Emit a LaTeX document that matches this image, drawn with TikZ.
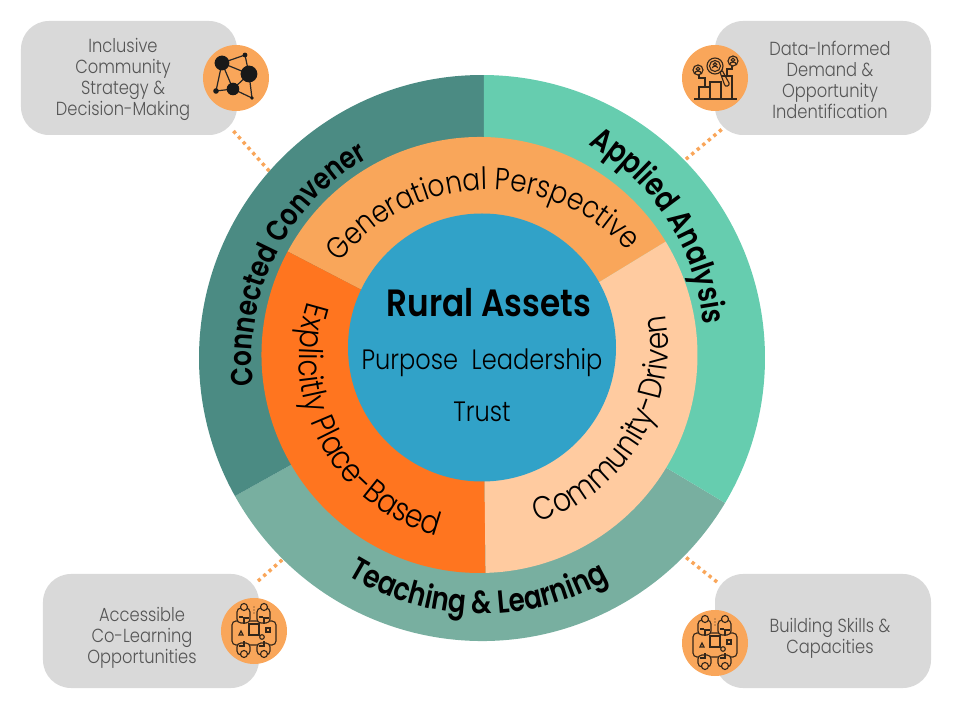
\documentclass[tikz,border=0pt]{standalone}
\usepackage{fontspec}
\setmainfont{Poppins}[UprightFont={* Light},BoldFont={* SemiBold},FakeStretch=0.86]
\newfontfamily\wheelbold{Poppins SemiBold}[FakeStretch=0.82]
\usetikzlibrary{decorations.text,calc}

\definecolor{convenercol}{HTML}{4B8B83}
\definecolor{analysiscol}{HTML}{66CDAF}
\definecolor{teachingcol}{HTML}{78AFA0}
\definecolor{generationcol}{HTML}{F9A65A}
\definecolor{placecol}{HTML}{FF751F}
\definecolor{communitycol}{HTML}{FFCBA0}
\definecolor{assetscol}{HTML}{31A2C8}
\definecolor{boxcol}{HTML}{D9D9D9}
\definecolor{boxtextcol}{HTML}{555555}
\definecolor{iconcol}{HTML}{33261A}

% text that follows a circle: font, centre, radius, from, to, text
\newcommand{\wheellabel}[6]{\path[shift={#2}, decorate, decoration={text along path, text={|#1|#6}, text align=center}] (#4:#3) arc (#4:#5:#3);}
\newcommand{\outerfont}{\wheelbold\fontsize{24}{24}\selectfont}
\newcommand{\convenerfont}{\wheelbold\fontsize{22.8}{22.8}\selectfont}
\newcommand{\middlefont}{\fontsize{23}{23}\selectfont}
\newcommand{\lowerfont}{\fontsize{24.5}{24.5}\selectfont}

\tikzset{
    personglyph/.pic={
        \draw (0,0) circle (5);
        \draw (0,1) circle (1.8);
        \draw (-3.2,-3.6) arc (180:0:3.2 and 2.6);
    },
    networkicon/.pic={
        \coordinate (a) at (-14,15);
        \coordinate (b) at (9,23);
        \coordinate (c) at (13,4);
        \coordinate (d) at (-3,-11);
        \coordinate (e) at (-20,-13);
        \coordinate (f) at (16,-20);
        \draw[line width=0.9pt, black!85] (b) -- (a) -- (c) -- (b) (a) -- (e) -- (d) -- (a) (d) -- (c) -- (f) -- (d);
        \foreach \p/\r in {a/7.4, b/2.4, c/8.4, d/6.3, e/2.8, f/1.8}
            \fill[black!90] (\p) circle (\r);
    },
    charticon/.pic={
        \begin{scope}[iconcol, line width=0.85pt]
        \draw (-21,-21) -- (22,-21);
        \draw (-16,-21) |- (-5,-9) (-5,-21) |- (6,-4) -- (6,-21) (6,2) -| (17,-21);
        \draw (-5,-21) -- (-5,-4);
        \draw (0,12) circle (8);
        \draw (0,12) circle (5.5);
        \draw (0,13.5) circle (1.7);
        \draw (-2.6,10) arc (180:0:2.6 and 1.9);
        \draw (5,6) -- (7.5,7) -- (14,-5) arc (20:-160:2.4) -- (5,6);
        \pic at (-17,8) {personglyph};
        \pic at (18,17) {personglyph};
        \draw (-16,3) |- (-10,0) -- (-10,-9);
        \draw (17,12) |- (12,9) -- (12,2);
        \end{scope}
    },
    meetingicon/.pic={
        \begin{scope}[iconcol, line width=0.85pt]
        \draw[rounded corners=3] (-22,10) rectangle (22,-14);
        \draw (-5,7) rectangle (5,-4);
        \draw (12,3) rectangle (16,-1);
        \draw (-15,-4) -- (-11,-4) -- (-13,0) -- cycle;
        \draw (8,-6) circle (2.3);
        \foreach \x in {-10,10} {
            \draw[fill=generationcol, rounded corners=3] (\x-7,23) rectangle (\x+6,8);
            \draw[fill=generationcol] (\x,24) circle (3.5);
            \draw (\x-5,14) -- (\x-1,14) (\x+5,13) -- (\x,13) -- (\x,7);
            \draw[fill=generationcol, rounded corners=3] (\x-7,-12) rectangle (\x+6,-24);
            \draw[fill=generationcol] (\x,-23) circle (3.5);
            \draw (\x-5,-15) -- (\x,-15) -- (\x,-10);
        }
        \foreach \y in {24,21,18}
            \fill (0,\y) circle (0.6);
        \end{scope}
    }
}

\begin{document}
\begin{tikzpicture}
    [
        x=0.75pt,
        y=0.75pt,
        box/.style={fill=boxcol, rounded corners=21pt, minimum width=162pt, minimum height=85.5pt, inner sep=0pt, outer sep=0pt},
        boxtext/.style={text=boxtextcol, align=center, font=\fontsize{14.2}{15.8}\selectfont, inner sep=0pt},
        iconcircle/.style={circle, fill=generationcol, minimum size=49.5pt, inner sep=0pt},
        dotlink/.style={draw=generationcol, line width=2.6pt, dash pattern=on 2.5pt off 2.9pt},
        centertext/.style={font=\fontsize{21}{21}\selectfont, inner sep=0pt, anchor=base}
    ]
    \useasboundingbox (-482,-362) rectangle (478,358);

    % call-out boxes
    \node[box] (inclusive) at (-353,280) {};
    \node[box] (datainformed) at (341,280) {};
    \node[box] (accessible) at (-331,-273) {};
    \node[box] (building) at (341,-273) {};
    \node[boxtext] (inclusivetext) at (-359,278.5) {Inclusive\\Community\\Strategy \&\\Decision-Making};
    \node[boxtext] (datainformedtext) at (348,278) {Data-Informed\\Demand \&\\Opportunity\\Indentification};
    \node[boxtext] (accessibletext) at (-340,-280) {Accessible\\Co-Learning\\Opportunities};
    \node[boxtext] (buildingtext) at (348,-280) {Building Skills \&\\Capacities};

    \coordinate (conveneredge) at (138.7:283);
    \coordinate (analysisedge) at (44.3:283);
    \coordinate (teachingleft) at (225.3:283);
    \coordinate (teachingright) at (-44.4:283);
    \path[dotlink, shorten <=-4pt] (inclusive.south east) -- (conveneredge);
    \path[dotlink, shorten <=-6.5pt] (datainformed.south west) -- (analysisedge);
    \path[dotlink] ($(accessible.north east)+(-1,-7)$) -- (teachingleft);
    \path[dotlink] ($(building.north west)+(2,-8)$) -- (teachingright);

    \node[iconcircle] (networkcircle) at (-246,280) {};
    \node[iconcircle] (chartcircle) at (233,280) {};
    \node[iconcircle] (meetingleft) at (-228,-273) {};
    \node[iconcircle] (meetingright) at (233,-285) {};
    \pic at (networkcircle) {networkicon};
    \pic at (chartcircle) {charticon};
    \pic at (meetingleft) {meetingicon};
    \pic at (meetingright) {meetingicon};

    % the wheel
    \coordinate (outerapex) at (1,0);
    \coordinate (middleapex) at (1,5);
    \coordinate (middlecentre) at (-2.5,3);
    \fill[teachingcol] (outerapex) -- (209.2:283) arc (209.2:329.2:283) -- cycle;
    \fill[convenercol] (outerapex) -- (89.6:283) arc (89.6:209.2:283) -- cycle;
    \fill[analysiscol] (outerapex) -- (89.6:283) arc (89.6:-30.8:283) -- cycle;
    \fill[generationcol] (middleapex) -- ($(middlecentre)+(151.65:218)$) arc (151.65:31.35:218) -- cycle;
    \fill[placecol] (middleapex) -- ($(middlecentre)+(151.65:218)$) arc (151.65:271.6:218) -- cycle;
    \fill[communitycol] (middleapex) -- ($(middlecentre)+(271.6:218)$) arc (271.6:391.35:218) -- cycle;
    \node[circle, fill=assetscol, minimum size=201pt, inner sep=0pt] (assets) at (0,10.5) {};

    \wheellabel{\convenerfont}{(0,0)}{230}{195}{111.6}{Connected Convener}
    \wheellabel{\outerfont}{(-10,13)}{232}{72.5}{-7.5}{Applied Analysis}
    \wheellabel{\outerfont}{(0,0)}{256}{220.5}{317.5}{Teaching {\&} Learning}
    \wheellabel{\middlefont}{(6.7,-20.4)}{188.5}{155}{29.6}{Generational Perspective}
    \wheellabel{\lowerfont}{(0,0)}{183}{152}{266}{Explicitly Place-Based}
    \wheellabel{\lowerfont}{(0,13)}{186}{-86}{22.8}{Community-Driven}

    \node[centertext, font=\fontsize{28.5}{28.5}\bfseries] (ruralassets) at (6.7,41.3) {Rural Assets};
    \node[centertext] (purpose) at (0,-12) {Purpose\hspace{0.25em} Leadership};
    \node[centertext] (trust) at (0,-63.7) {Trust};
\end{tikzpicture}
\end{document}
